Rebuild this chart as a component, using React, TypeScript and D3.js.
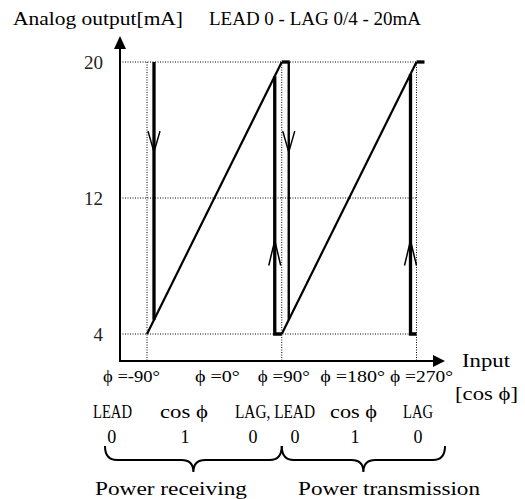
import React from "react";
import * as d3 from "d3";

// ---- data ----
const phiTicks = [-90, 0, 90, 180, 270];
const phiLabels = ["ϕ =-90°", "ϕ =0°", "ϕ =90°", "ϕ =180°", "ϕ =270°"];
const modeLabels = ["LEAD", "cos ϕ", "LAG, LEAD", "cos ϕ", "LAG"];
const cosPhiAt = [-90, 0, 90, 90, 180, 270];
const cosValues = ["0", "1", "0", "0", "1", "0"];
const yTicks = [4, 12, 20];
const outMin = 4;
const outMax = 20;
// ramps: phase range over which output rises 4 -> 20 mA
const rampStarts = [-90, 90];
const rampEnds = [90, 270];
const drops = [-90, 90]; // 20 -> ramp, just right of phi
const rises = [90, 270]; // 4 -> ramp, just left of phi
const topCaps = [90, 270];
const dropArrowTip = 14.7;
const riseArrowTip = 9.5;
const groups = [
  { label: "Power receiving", from: -90, to: 90 },
  { label: "Power transmission", from: 90, to: 270 },
];

const W = 525;
const H = 499;

export default function App() {
  const xs = d3.scaleLinear().domain([-90, 270]).range([147, 416.5]);
  const ys = d3.scaleLinear().domain([outMin, outMax]).range([334, 62]);
  const axisX = 120;
  const axisY = 361;
  const off = 7;
  const line = d3.line<[number, number]>().x((d) => d[0]).y((d) => d[1]);

  const rampValueAt = (px: number, start: number) => {
    const phi = xs.invert(px);
    return outMin + ((phi - start) / 180) * (outMax - outMin);
  };

  const serif = "'Liberation Serif', 'DejaVu Serif', serif";

  const phiDx = [-15.5, 3, 2, 3.5, 5];
  const modeDx = [-34.5, -30.4, -6.75, 4.4, 1.5];
  const modeW = [39, 48, 80, 47, 30];
  const phiW = [57, 45, 52, 65, 63];
  const cosDx = [-35.3, -29.4, -28.75, 13.25, 5.9, 1.5];
  const braceExt = [
    [-42, 0],
    [0, 28.5],
  ];

  const brace = (x0: number, x1: number) => {
    const yTop = 446;
    const yBar = 460;
    const yTip = 472;
    const xm = (x0 + x1) / 2;
    const r = 12;
    return `M${x0},${yTop} Q${x0},${yBar} ${x0 + r},${yBar} L${xm - r},${yBar} Q${xm},${yBar} ${xm},${yTip} Q${xm},${yBar} ${xm + r},${yBar} L${x1 - r},${yBar} Q${x1},${yBar} ${x1},${yTop}`;
  };

  return (
    <svg width={W} height={H} style={{ position: "absolute", left: 0, top: 0, background: "#fff" }}>
      <rect width={W} height={H} fill="#fff" />
      {/* title */}
      <text x={13} y={25} fontFamily={serif} fontSize={18} textLength={170} lengthAdjust="spacingAndGlyphs">
        Analog output[mA]
      </text>
      <text x={209} y={25} fontFamily={serif} fontSize={18} textLength={212} lengthAdjust="spacingAndGlyphs">
        LEAD 0 - LAG 0/4 - 20mA
      </text>

      {/* grid */}
      {yTicks.map((t) => (
        <line key={"gy" + t} x1={axisX} x2={xs(270) + 1} y1={ys(t)} y2={ys(t)} stroke="#000" strokeWidth={1} strokeDasharray="1,1.5" />
      ))}
      {[-90, 90, 270].map((p) => (
        <line key={"gx" + p} x1={xs(p)} x2={xs(p)} y1={ys(outMax)} y2={axisY} stroke="#000" strokeWidth={1} strokeDasharray="1,1.5" />
      ))}

      {/* y tick labels */}
      {yTicks.map((t) => (
        <text key={"yl" + t} x={103} y={ys(t) + 6.5} textAnchor="end" fontFamily={serif} fontSize={19} fill="#222">
          {t}
        </text>
      ))}

      {/* axes */}
      <line x1={axisX} x2={axisX} y1={axisY} y2={46} stroke="#000" strokeWidth={2} />
      <path d={`M${axisX},36 L${axisX - 6},49 L${axisX + 6},49 Z`} fill="#000" />
      <line x1={axisX - 1} x2={436} y1={axisY} y2={axisY} stroke="#000" strokeWidth={2} />
      <path d={`M445,${axisY} L433,${axisY - 6} L433,${axisY + 6} Z`} fill="#000" />

      {/* ramps */}
      {rampStarts.map((s, i) => (
        <path
          key={"r" + i}
          d={line([
            [xs(s), ys(outMin)],
            [xs(rampEnds[i]), ys(outMax)],
          ])!}
          stroke="#000"
          strokeWidth={2.2}
          fill="none"
        />
      ))}

      {/* drops */}
      {drops.map((p, i) => {
        const x = xs(p) + off;
        const v = rampValueAt(x, p);
        return (
          <g key={"d" + i}>
            <path d={line([[x, ys(outMax)], [x, ys(v)]])!} stroke="#000" strokeWidth={i === 0 ? 3.3 : 2.4} fill="none" />
            <path
              d={line([
                [x - 6, ys(dropArrowTip) - 21],
                [x, ys(dropArrowTip)],
                [x + 6, ys(dropArrowTip) - 21],
              ])!}
              stroke="#000"
              strokeWidth={1.5}
              fill="none"
            />
          </g>
        );
      })}
      {/* top caps */}
      {topCaps.map((p, i) => (
        <path key={"tc" + i} d={line([[xs(p), ys(outMax)], [xs(p) + off + 1, ys(outMax)]])!} stroke="#000" strokeWidth={3.3} fill="none" />
      ))}

      {/* rises */}
      {rises.map((p, i) => {
        const x = xs(p) - off + (i === 1 ? 1 : 0);
        const v = rampValueAt(x, p - 180);
        return (
          <g key={"u" + i}>
            <path
              d={line([
                [xs(p), ys(outMin)],
                [x, ys(outMin)],
                [x, ys(v)],
              ])!}
              stroke="#000"
              strokeWidth={3.3}
              fill="none"
            />
            <path
              d={line([
                [x - 6, ys(riseArrowTip) + 25],
                [x, ys(riseArrowTip)],
                [x + 6, ys(riseArrowTip) + 25],
              ])!}
              stroke="#000"
              strokeWidth={1.5}
              fill="none"
            />
          </g>
        );
      })}

      {/* x axis label */}
      <text x={462} y={367} fontFamily={serif} fontSize={18} textLength={48} lengthAdjust="spacingAndGlyphs">
        Input
      </text>
      <text x={455} y={400} fontFamily={serif} fontSize={18} textLength={63} lengthAdjust="spacingAndGlyphs">
        [cos ϕ]
      </text>

      {/* phi labels */}
      {phiTicks.map((p, i) => (
        <text
          key={"pl" + i}
          x={xs(p) + phiDx[i]}
          y={382}
          textAnchor="middle"
          fontFamily={serif}
          fontSize={17}
          textLength={phiW[i]}
          lengthAdjust="spacingAndGlyphs"
        >
          {phiLabels[i]}
        </text>
      ))}

      {/* mode labels */}
      {phiTicks.map((p, i) => (
        <text
          key={"ml" + i}
          x={xs(p) + modeDx[i]}
          y={418}
          textAnchor="middle"
          fontFamily={serif}
          fontSize={18}
          textLength={modeW[i]}
          lengthAdjust="spacingAndGlyphs"
        >
          {modeLabels[i]}
        </text>
      ))}

      {/* cos phi values */}
      {cosPhiAt.map((p, i) => (
        <text key={"cv" + i} x={xs(p) + cosDx[i]} y={443} textAnchor="middle" fontFamily={serif} fontSize={18}>
          {cosValues[i]}
        </text>
      ))}

      {/* braces */}
      {groups.map((g, i) => {
        const x0 = xs(g.from) + braceExt[i][0];
        const x1 = xs(g.to) + braceExt[i][1];
        return <path key={"b" + i} d={brace(x0, x1)} stroke="#000" strokeWidth={2} fill="none" />;
      })}
      <text x={95} y={495} fontFamily={serif} fontSize={18} textLength={152} lengthAdjust="spacingAndGlyphs">
        {groups[0].label}
      </text>
      <text x={298} y={495} fontFamily={serif} fontSize={18} textLength={182} lengthAdjust="spacingAndGlyphs">
        {groups[1].label}
      </text>
    </svg>
  );
}
